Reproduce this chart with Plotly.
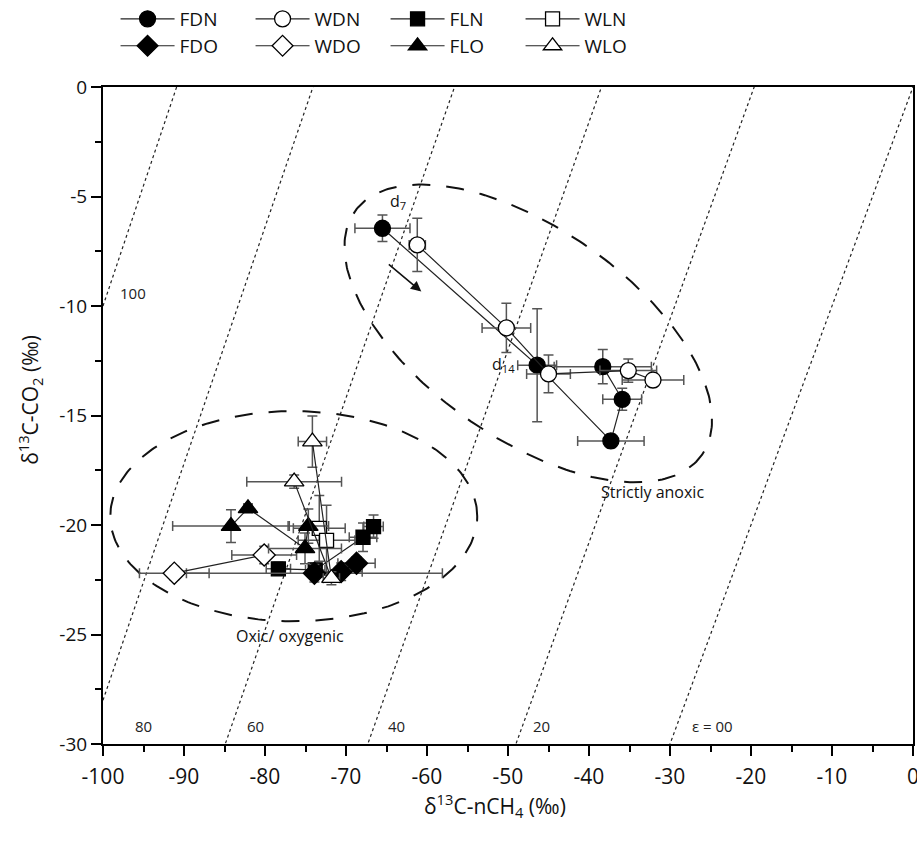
import numpy as np
import plotly.graph_objects as go

# ---------------- data ----------------
FDN_x = [-65.5, -46.4, -37.3, -35.9, -38.3]
FDN_y = [-6.45, -12.7, -16.16, -14.26, -12.77]
FDN_ex = [3.4, 2.4, 4.1, 2.4, 6.0]
FDN_ey = [0.61, 2.58, 0.3, 0.5, 0.78]

WDN_x = [-61.2, -50.2, -45.0, -35.15, -32.1]
WDN_y = [-7.21, -11.0, -13.1, -12.95, -13.38]
WDN_ex = [1.0, 3.0, 2.7, 3.5, 3.8]
WDN_ey = [1.22, 1.12, 0.86, 0.53, 0.3]

FLN_x = [-78.35, -73.8, -67.9, -66.6]
FLN_y = [-22.0, -22.05, -20.56, -20.07]
FLN_ex = [1.5, 1.2, 1.7, 1.2]
FLN_ey = [0.3, 0.3, 0.65, 0.53]

WLN_x = [-73.3, -72.4]
WLN_y = [-20.15, -20.7]
WLN_ex = [3.2, 3.5]
WLN_ey = [1.5, 1.6]

FDO_x = [-73.9, -70.6, -68.7]
FDO_y = [-22.2, -22.13, -21.75]
FDO_ex = [15.8, 2.6, 2.3]
FDO_ey = [0.4, 0.4, 0.3]

WDO_x = [-91.2, -80.1]
WDO_y = [-22.2, -21.37]
WDO_ex = [4.3, 4.0]
WDO_ey = [0.3, 0.4]

FLO_x = [-84.2, -82.1, -75.06, -74.65]
FLO_y = [-20.05, -19.24, -21.07, -20.05]
FLO_ex = [7.2, 0.5, 4.5, 2.5]
FLO_ey = [0.75, 0.2, 0.7, 0.78]

WLO_x = [-76.4, -71.8, -74.15]
WLO_y = [-18.02, -22.43, -16.19]
WLO_ex = [5.85, 1.0, 1.75]
WLO_ey = [0.3, 0.3, 1.17]

# fractionation (epsilon) reference lines and their labels
eps_values = [100, 80, 60, 40, 20, 0]
eps_labels = ["100", "80", "60", "40", "20", "\u03b5 = 00"]
eps_label_x = [-96.3, -95.0, -81.2, -63.8, -45.9, -24.8]
eps_label_y = [-9.4, -29.2, -29.2, -29.2, -29.2, -29.2]

x_ticks = [-100, -90, -80, -70, -60, -50, -40, -30, -20, -10, 0]
x_ticklabels = ["-100", "-90", "-80", "-70", "-60", "-50", "-40", "-30", "-20", "-10", "0"]
y_ticks = [0, -5, -10, -15, -20, -25, -30]
y_ticklabels = ["0", "-5", "-10", "-15", "-20", "-25", "-30"]

# ---------------- figure ----------------
fig = go.Figure()

FONT = "Open Sans"

# dotted epsilon lines
xe = np.array([-100.0, 0.0])
for e in eps_values:
    ye = (1 + e / 1000.0) * (xe + 1000.0) - 1000.0
    fig.add_trace(go.Scatter(x=xe, y=ye, mode="lines", showlegend=False,
                             hoverinfo="skip",
                             line=dict(color="#222", width=1.2, dash="dot")))

# dashed ellipses
t = np.linspace(0, 2 * np.pi, 300)
ax_ = -47.5 + 21.44 * np.cos(t) - 7.43 * np.sin(t)
ay_ = -11.25 - 5.55 * np.cos(t) - 3.93 * np.sin(t)
fig.add_trace(go.Scatter(x=ax_, y=ay_, mode="lines", showlegend=False, hoverinfo="skip",
                         line=dict(color="#111", width=2, dash="18px,16px")))
ox_ = -76.45 + 22.65 * np.cos(t)
oy_ = -19.6 + 4.8 * np.sin(t)
fig.add_trace(go.Scatter(x=ox_, y=oy_, mode="lines", showlegend=False, hoverinfo="skip",
                         line=dict(color="#111", width=2, dash="18px,16px")))

ERR = "#555"


def series(name, xs, ys, ex, ey, symbol, fill, size, legend):
    fig.add_trace(go.Scatter(
        x=xs, y=ys, name=name, mode="lines+markers", legend=legend,
        line=dict(color="#222", width=1.2),
        marker=dict(symbol=symbol, size=size, color=fill,
                    line=dict(color="black", width=1.3)),
        error_x=dict(type="data", array=ex, visible=True, color=ERR, thickness=1.5, width=5),
        error_y=dict(type="data", array=ey, visible=True, color=ERR, thickness=1.5, width=5),
    ))


series("FDN", FDN_x, FDN_y, FDN_ex, FDN_ey, "circle", "black", 16, "legend")
series("WDN", WDN_x, WDN_y, WDN_ex, WDN_ey, "circle", "white", 16, "legend")
series("FLN", FLN_x, FLN_y, FLN_ex, FLN_ey, "square", "black", 14, "legend")
series("WLN", WLN_x, WLN_y, WLN_ex, WLN_ey, "square", "white", 14, "legend")
series("FDO", FDO_x, FDO_y, FDO_ex, FDO_ey, "diamond", "black", 17, "legend2")
series("WDO", WDO_x, WDO_y, WDO_ex, WDO_ey, "diamond", "white", 17, "legend2")
series("FLO", FLO_x, FLO_y, FLO_ex, FLO_ey, "triangle-up", "black", 17, "legend2")
series("WLO", WLO_x, WLO_y, WLO_ex, WLO_ey, "triangle-up", "white", 17, "legend2")

annotations = []
for lab, lx, ly in zip(eps_labels, eps_label_x, eps_label_y):
    annotations.append(dict(x=lx, y=ly, text=lab, showarrow=False, xref="x", yref="y",
                            font=dict(family=FONT, size=15, color="#222")))

annotations += [
    dict(x=-32.2, y=-18.5, text="Strictly anoxic", showarrow=False,
         font=dict(family=FONT, size=16, color="#111")),
    dict(x=-76.9, y=-25.07, text="Oxic/ oxygenic", showarrow=False,
         font=dict(family=FONT, size=16, color="#111")),
    dict(x=-63.6, y=-5.25, text="d<sub>7</sub>", showarrow=False,
         font=dict(family=FONT, size=16, color="#111")),
    dict(x=-50.6, y=-12.65, text="d<sub>14</sub>", showarrow=False,
         font=dict(family=FONT, size=16, color="#111")),
    dict(x=-60.7, y=-9.34, ax=-64.9, ay=-8.04, xref="x", yref="y", axref="x", ayref="y",
         text="", showarrow=True, arrowhead=2, arrowsize=1.3, arrowwidth=1.6, arrowcolor="#111"),
    dict(x=0.484, y=-0.094, xref="paper", yref="paper", showarrow=False,
         xanchor="center", yanchor="middle",
         text="\u03b4<sup>13</sup>C-nCH<sub>4</sub> (\u2030)",
         font=dict(family=FONT, size=21, color="#111")),
    dict(x=-0.09, y=0.524, xref="paper", yref="paper", showarrow=False, textangle=-90,
         xanchor="center", yanchor="middle",
         text="\u03b4<sup>13</sup>C-CO<sub>2</sub> (\u2030)",
         font=dict(family=FONT, size=21, color="#111")),
]

axis_common = dict(showline=True, linewidth=2, linecolor="black", mirror=True,
                   ticks="outside", ticklen=10, tickwidth=2, tickcolor="black",
                   showgrid=False, zeroline=False, automargin=False,
                   ticklabeloverflow="allow")

legend_common = dict(orientation="h", x=0.0155, xanchor="left", yanchor="top",
                     yref="container",
                     font=dict(family=FONT, size=19, color="#111"),
                     entrywidth=66, entrywidthmode="pixels", itemwidth=54,
                     bgcolor="rgba(0,0,0,0)")

fig.update_layout(
    width=917, height=841,
    margin=dict(l=103, r=4, t=87, b=97),
    paper_bgcolor="white", plot_bgcolor="white",
    xaxis=dict(range=[-100, 0], tickvals=x_ticks, ticktext=x_ticklabels,
               tickfont=dict(family=FONT, size=21, color="#111"), ticklabelstandoff=3,
               minor=dict(ticks="outside", ticklen=6, tickwidth=1.5, dtick=5, tickcolor="black"),
               **axis_common),
    yaxis=dict(range=[-30, 0], tickvals=y_ticks, ticktext=y_ticklabels,
               tickfont=dict(family=FONT, size=19, color="#111"),
               minor=dict(ticks="outside", ticklen=6, tickwidth=1.5, dtick=2.5, tickcolor="black"),
               **axis_common),
    legend=dict(y=1.0, **legend_common),
    legend2=dict(y=0.968, **legend_common),
    annotations=annotations,
)

fig.write_html("out.html", config={"displayModeBar": False},
               post_script="document.body.style.margin='0px';")
